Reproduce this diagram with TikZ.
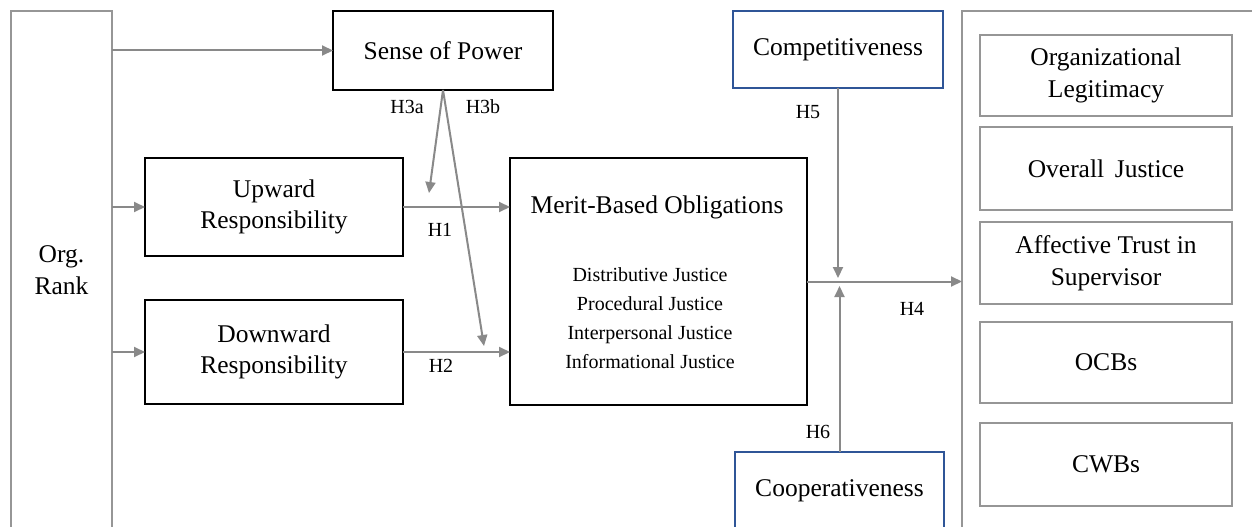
\documentclass[tikz,border=0pt]{standalone}
\usepackage{fontspec}
\setmainfont{Liberation Serif}
\usetikzlibrary{arrows.meta}
\definecolor{lgray}{RGB}{137,137,137}
\definecolor{bgray}{RGB}{150,150,150}
\definecolor{bblue}{RGB}{47,85,151}
\begin{document}
\begin{tikzpicture}[x=1pt,y=-1pt,
  base/.style={align=center, inner sep=0pt, outer sep=0pt, font=\fontsize{25.5}{31.5}\selectfont},
  bbox/.style={base, draw=black, line width=1.3pt},
  gbox/.style={base, draw=bgray, line width=2pt},
  bluebox/.style={base, draw=bblue, line width=1.5pt},
  lab/.style={inner sep=0pt, font=\fontsize{20}{24}\selectfont},
  small/.style={align=center, inner sep=0pt, font=\fontsize{20}{29}\selectfont},
  conn/.style={draw=lgray, line width=2pt, -{Triangle[length=11pt,width=10pt]}}
]
\useasboundingbox (0,0) rectangle (1252,527);
\clip (0,0) rectangle (1252,527);
\fill[white] (0,0) rectangle (1252,527);

% left
\node[gbox, minimum width=101pt, minimum height=518pt] (org) at (61.5,270) {Org.\\Rank};
\node[bbox, minimum width=220pt, minimum height=79pt] (sop) at (443,50.5) {Sense of Power};
\node[bbox, minimum width=258pt, minimum height=98pt] (up) at (274,207) {Upward\\Responsibility};
\node[bbox, minimum width=258pt, minimum height=104pt] (down) at (274,352) {Downward\\Responsibility};

% merit
\node[bbox, minimum width=297pt, minimum height=247pt] (merit) at (658.5,281.5) {};
\node[base] (mtitle) at (657,207) {Merit-Based Obligations};
\node[small] (mlist) at (650,318) {Distributive Justice\\Procedural Justice\\Interpersonal Justice\\Informational Justice};

% moderators
\node[bluebox, minimum width=210pt, minimum height=77pt] (comp) at (838,49.5) {Competitiveness};
\node[bluebox, minimum width=209pt, minimum height=78pt] (coop) at (839.5,491) {Cooperativeness};

% outcomes
\node[gbox, minimum width=310pt, minimum height=540pt] (out) at (1117,281) {};
\node[gbox, minimum width=252pt, minimum height=81pt] (o1) at (1106,75.5) {Organizational\\Legitimacy};
\node[gbox, minimum width=252pt, minimum height=83pt] (o2) at (1106,168.5) {Overall\, Justice};
\node[gbox, minimum width=252pt, minimum height=82pt] (o3) at (1106,263) {Affective Trust in\\Supervisor};
\node[gbox, minimum width=252pt, minimum height=81pt] (o4) at (1106,362.5) {OCBs};
\node[gbox, minimum width=252pt, minimum height=83pt] (o5) at (1106,464.5) {CWBs};

% connectors
\draw[conn] (org.east |- sop.west) -- (sop.west);
\draw[conn] (org.east |- up.west) -- (up.west);
\draw[conn] (org.east |- down.west) -- (down.west);
\draw[conn] (up.east) -- (merit.west |- up.east);
\draw[conn] (down.east) -- (merit.west |- down.east);
\coordinate (h3aend) at (429,193);
\coordinate (h3bend) at (484,346);
\draw[conn] (sop.south) -- (h3aend);
\draw[conn] (sop.south) -- (h3bend);
\draw[conn] (merit.east) -- (out.west |- merit.east);
\coordinate (h5end) at (838,278);
\coordinate (h6end) at (839.5,286);
\draw[conn] (comp.south) -- (h5end);
\draw[conn] (coop.north) -- (h6end);

% labels
\node[lab] (l3a) at (407,107) {H3a};
\node[lab] (l3b) at (483,107) {H3b};
\node[lab] (l1) at (440,230) {H1};
\node[lab] (l2) at (441,366) {H2};
\node[lab] (l4) at (912,309) {H4};
\node[lab] (l5) at (808,112) {H5};
\node[lab] (l6) at (818,432) {H6};
\end{tikzpicture}
\end{document}
